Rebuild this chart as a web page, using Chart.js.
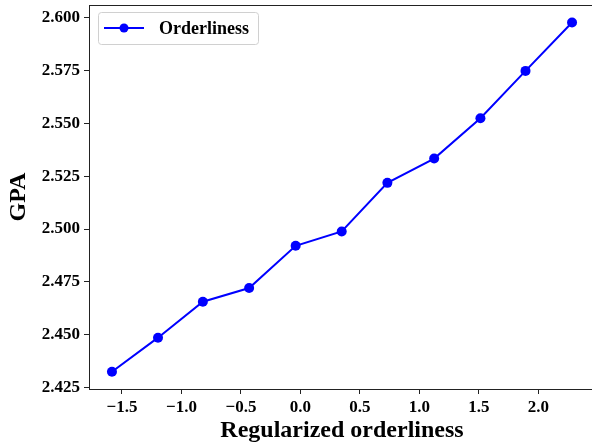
<!DOCTYPE html>
<html><head><meta charset="utf-8">
<script src="https://cdn.jsdelivr.net/npm/chart.js@4/dist/chart.umd.min.js"></script>
<style>html,body{margin:0;padding:0;overflow:hidden;background:#fff;width:592px;height:446px}canvas{display:block}</style>
</head><body>
<canvas id="c" width="600" height="446"></canvas>
<script>
const xValues = [-1.584, -1.197, -0.820, -0.431, -0.040, 0.347, 0.731, 1.124, 1.513, 1.892, 2.283];
const gpaValues = [2.4325, 2.4486, 2.4656, 2.4721, 2.4921, 2.4989, 2.5219, 2.5334, 2.5525, 2.5749, 2.5978];
const xTicks = [-1.5, -1.0, -0.5, 0.0, 0.5, 1.0, 1.5, 2.0];
const yTicks = [2.425, 2.450, 2.475, 2.500, 2.525, 2.550, 2.575, 2.600];
const seriesName = 'Orderliness';
const xTitle = 'Regularized orderliness';
const yTitle = 'GPA';

const FONT = '"Liberation Serif", "Times New Roman", serif';
const BLUE = '#0000ff';
const AXC = '#222';

const boxPlugin = {
  id: 'box',
  afterDraw(chart) {
    const {ctx, chartArea: a} = chart;
    ctx.save();
    ctx.strokeStyle = AXC; ctx.lineWidth = 1;
    ctx.beginPath();
    ctx.moveTo(a.left, a.top + 0.5); ctx.lineTo(chart.width, a.top + 0.5);
    ctx.stroke();
    // legend
    const x0 = 98.5, y0 = 12.5, w = 160, h = 32, r = 3;
    ctx.fillStyle = 'rgba(255,255,255,0.8)';
    ctx.strokeStyle = '#d0d0d0';
    ctx.beginPath();
    ctx.roundRect(x0, y0, w, h, r);
    ctx.fill(); ctx.stroke();
    const ly = 28;
    ctx.strokeStyle = BLUE; ctx.lineWidth = 2;
    ctx.beginPath(); ctx.moveTo(104, ly); ctx.lineTo(144, ly); ctx.stroke();
    ctx.fillStyle = BLUE;
    ctx.beginPath(); ctx.arc(124, ly, 4.5, 0, Math.PI * 2); ctx.fill();
    ctx.fillStyle = '#000';
    ctx.font = 'bold 18px ' + FONT;
    ctx.textBaseline = 'middle';
    ctx.textAlign = 'left';
    ctx.fillText(seriesName, 159, ly + 1);
    ctx.restore();
  }
};

new Chart(document.getElementById('c'), {
  type: 'line',
  data: {
    datasets: [{
      label: seriesName,
      data: xValues.map((x, i) => ({x: x, y: gpaValues[i]})),
      borderColor: BLUE,
      backgroundColor: BLUE,
      borderWidth: 2,
      pointRadius: 5,
      pointHoverRadius: 5,
      pointBackgroundColor: BLUE,
      pointBorderWidth: 0,
      tension: 0,
      fill: false
    }]
  },
  options: {
    responsive: false,
    animation: false,
    events: [],
    layout: {padding: {left: 0, right: 5, top: 4, bottom: 0}},
    plugins: {legend: {display: false}, tooltip: {enabled: false}},
    scales: {
      x: {
        type: 'linear',
        min: -1.777, max: 2.476,
        afterBuildTicks(s) { s.ticks = xTicks.map(v => ({value: v})); },
        afterFit(s) { s.height = 57; s.paddingLeft = 0; s.paddingRight = 0; },
        ticks: {
          font: {family: FONT, size: 17, weight: 'bold'}, color: '#000',
          padding: 3, maxRotation: 0, autoSkip: false,
          callback: v => (v < 0 ? '\u2212' : '') + Math.abs(v).toFixed(1)
        },
        grid: {display: true, drawOnChartArea: false, drawTicks: true, tickLength: 5, tickColor: AXC},
        border: {display: true, color: AXC, width: 1},
        title: {display: true, text: xTitle, color: '#000', font: {family: FONT, size: 24, weight: 'bold'}, padding: {top: 0, bottom: 1}}
      },
      y: {
        type: 'linear',
        min: 2.4243, max: 2.6061,
        afterBuildTicks(s) { s.ticks = yTicks.map(v => ({value: v})); },
        afterFit(s) { s.width = 89; s.paddingTop = 0; s.paddingBottom = 0; },
        ticks: {
          font: {family: FONT, size: 17, weight: 'bold'}, color: '#000',
          padding: 4, autoSkip: false,
          callback: v => v.toFixed(3)
        },
        grid: {display: true, drawOnChartArea: false, drawTicks: true, tickLength: 5, tickColor: AXC},
        border: {display: true, color: AXC, width: 1},
        title: {display: true, text: yTitle, color: '#000', font: {family: FONT, size: 24, weight: 'bold'}, padding: {top: 4, bottom: 0}}
      }
    }
  },
  plugins: [boxPlugin]
});
</script>
</body></html>
